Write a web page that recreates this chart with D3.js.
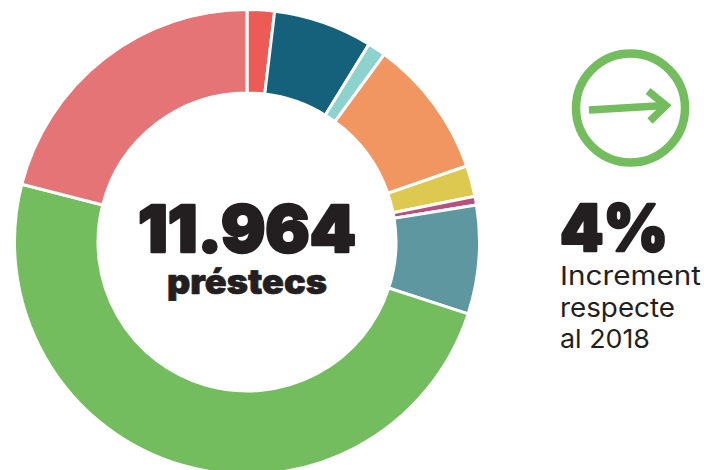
<!DOCTYPE html>
<html>
<head>
<meta charset="utf-8">
<style>
body { margin: 0; background: #fff; }
svg { display: block; }
text { fill: #231f20; font-family: Inter, sans-serif; }
.heavy { font-weight: 900; stroke: #231f20; stroke-linejoin: round; }
</style>
</head>
<body>
<svg width="704" height="470"></svg>
<script src="https://d3js.org/d3.v7.min.js"></script>
<script>
var categories = ["a", "b", "c", "d", "e", "f", "g", "h", "i"];
var values = [1.9, 6.9, 1.25, 9.65, 2.15, 0.6, 7.55, 49, 21];
var colors = ["#ec5b56", "#15607a", "#8dd2cc", "#f29661", "#ddc850", "#b84f7c", "#5f97a0", "#73bd5e", "#e47475"];
var total = "11.964";
var unit = "préstecs";
var change = "4%";
var changeLines = ["Increment", "respecte", "al 2018"];

var svg = d3.select("svg");

var color = d3.scaleOrdinal().domain(categories).range(colors);

var pie = d3.pie().sort(null).value(function(d) { return d.value; });
var arc = d3.arc().innerRadius(149).outerRadius(232.5);

var table = categories.map(function(c, i) { return { name: c, value: values[i] }; });

var ring = svg.append("g").attr("transform", "translate(247,242)");

ring.selectAll("path")
    .data(pie(table))
    .enter().append("path")
    .attr("d", arc)
    .attr("fill", function(d) { return color(d.data.name); })
    .attr("stroke", "#fff")
    .attr("stroke-width", 3);

ring.append("text")
    .attr("class", "heavy")
    .attr("x", -109).attr("y", 9.5)
    .attr("textLength", 218)
    .attr("lengthAdjust", "spacingAndGlyphs")
    .style("font-size", "65px")
    .style("stroke-width", 2.5)
    .text(total);

ring.append("text")
    .attr("class", "heavy")
    .attr("x", -80).attr("y", 52)
    .attr("textLength", 160)
    .attr("lengthAdjust", "spacingAndGlyphs")
    .style("font-size", "34px")
    .style("stroke-width", 0.7)
    .text(unit);

// arrow badge
var badge = svg.append("g").attr("fill", "none").attr("stroke", "#73bd5e");
badge.append("circle")
    .attr("cx", 630.5).attr("cy", 108).attr("r", 54.5)
    .attr("stroke-width", 8.5);
badge.append("path")
    .attr("d", d3.line()([[589, 110], [665, 105.5]]))
    .attr("stroke-width", 7.5);
badge.append("path")
    .attr("d", d3.line()([[648, 91], [666, 105.5], [650, 121]]))
    .attr("stroke-width", 7.5);

svg.append("text")
    .attr("class", "heavy")
    .attr("x", 560).attr("y", 251)
    .attr("textLength", 108)
    .attr("lengthAdjust", "spacingAndGlyphs")
    .style("font-size", "64px")
    .style("stroke-width", 2.5)
    .text(change);

// the line widths are fitted by hand, Inter runs narrower than the original face
var noteWidth = d3.scaleOrdinal().domain(changeLines).range([141, 115, 90]);

svg.selectAll(".note")
    .data(changeLines)
    .enter().append("text")
    .attr("class", "note")
    .attr("x", 560)
    .attr("y", function(d, i) { return 285 + i * 31.5; })
    .attr("textLength", function(d) { return noteWidth(d); })
    .attr("lengthAdjust", "spacingAndGlyphs")
    .style("font-size", "26px")
    .text(function(d) { return d; });
</script>
</body>
</html>
